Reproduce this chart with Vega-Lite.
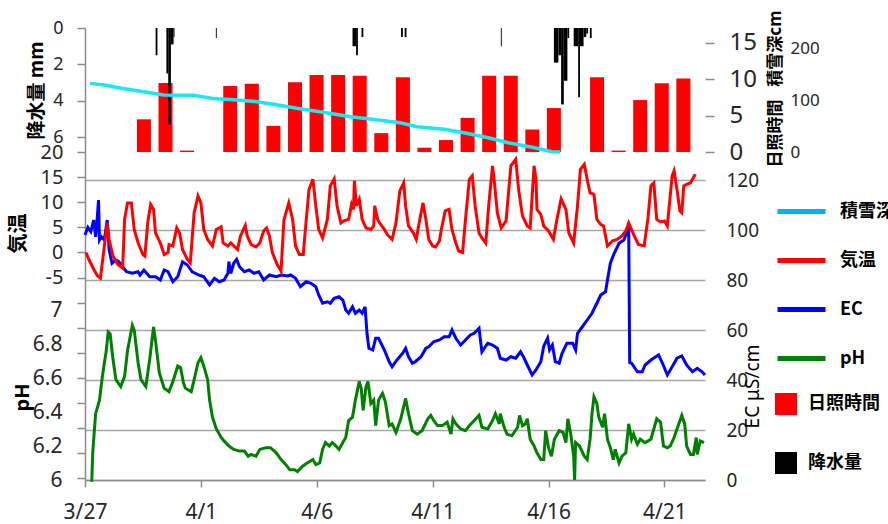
{
"$schema": "https://vega.github.io/schema/vega-lite/v6.json",
"width": 620, "height": 452,
"autosize": {"type": "none"},
"padding": {"left": 85, "top": 28, "right": 183, "bottom": 44},
"config": {
  "view": {"stroke": null},
  "font": "Noto Sans",
  "axis": {"labelFont": "Noto Sans", "labelColor": "#262626", "titleFont": "Noto Sans CJK JP", "titleColor": "#000000", "titleFontWeight": "bold", "domainColor": "#8c8c8c", "tickColor": "#8c8c8c", "domainWidth": 1.5, "tickWidth": 1.5, "gridColor": "#a6a6a6", "gridWidth": 1.5, "grid": false, "labelFlush": false, "labelOverlap": false, "labelBound": false, "titleAlign": "center", "titleBaseline": "middle", "titleAngle": 270, "titlePadding": 0},
  "legend": {"labelFont": "Noto Sans CJK JP", "labelFontWeight": "bold", "labelFontSize": 18, "labelColor": "#000000"}
},
"datasets": {
  "pr": [
    {"t":"2021-03-30T01:00","t2":"2021-03-30T03:00","v":1.5},
    {"t":"2021-03-30T13:00","t2":"2021-03-30T15:00","v":2.5},
    {"t":"2021-03-30T15:00","t2":"2021-03-30T18:00","v":5.3},
    {"t":"2021-03-30T18:00","t2":"2021-03-30T21:00","v":0.9},
    {"t":"2021-03-30T21:00","t2":"2021-03-30T22:00","v":0.5},
    {"t":"2021-04-01T20:00","t2":"2021-04-01T21:00","v":0.55},
    {"t":"2021-04-08T04:00","t2":"2021-04-08T08:00","v":1.0},
    {"t":"2021-04-08T08:00","t2":"2021-04-08T10:00","v":1.5},
    {"t":"2021-04-08T14:00","t2":"2021-04-08T16:00","v":0.5},
    {"t":"2021-04-10T10:00","t2":"2021-04-10T12:00","v":0.5},
    {"t":"2021-04-10T14:00","t2":"2021-04-10T16:00","v":0.5},
    {"t":"2021-04-15T01:00","t2":"2021-04-15T02:00","v":1.0},
    {"t":"2021-04-17T12:00","t2":"2021-04-17T17:00","v":1.9},
    {"t":"2021-04-17T17:00","t2":"2021-04-17T20:00","v":1.5},
    {"t":"2021-04-17T20:00","t2":"2021-04-17T23:00","v":4.2},
    {"t":"2021-04-17T23:00","t2":"2021-04-18T03:00","v":2.9},
    {"t":"2021-04-18T03:00","t2":"2021-04-18T05:00","v":0.55},
    {"t":"2021-04-18T10:00","t2":"2021-04-18T15:00","v":1.0},
    {"t":"2021-04-18T15:00","t2":"2021-04-18T17:00","v":3.8},
    {"t":"2021-04-18T17:00","t2":"2021-04-18T21:00","v":1.0},
    {"t":"2021-04-18T21:00","t2":"2021-04-19T00:00","v":0.5},
    {"t":"2021-04-19T00:00","t2":"2021-04-19T02:00","v":0.3},
    {"t":"2021-04-19T04:00","t2":"2021-04-19T06:00","v":0.55}
  ],
  "sun": [
    {"t":"2021-03-29T12:00","v":4.5},{"t":"2021-03-30T12:00","v":9.5},{"t":"2021-03-31T12:00","v":0.2},{"t":"2021-04-01T12:00","v":0},
    {"t":"2021-04-02T12:00","v":9.1},{"t":"2021-04-03T12:00","v":9.4},{"t":"2021-04-04T12:00","v":3.6},{"t":"2021-04-05T12:00","v":9.6},
    {"t":"2021-04-06T12:00","v":10.6},{"t":"2021-04-07T12:00","v":10.6},{"t":"2021-04-08T12:00","v":10.5},{"t":"2021-04-09T12:00","v":2.6},
    {"t":"2021-04-10T12:00","v":10.3},{"t":"2021-04-11T12:00","v":0.6},{"t":"2021-04-12T12:00","v":1.65},{"t":"2021-04-13T12:00","v":4.7},
    {"t":"2021-04-14T12:00","v":10.5},{"t":"2021-04-15T12:00","v":10.5},{"t":"2021-04-16T12:00","v":3.1},{"t":"2021-04-17T12:00","v":6.05},
    {"t":"2021-04-18T12:00","v":0},{"t":"2021-04-19T12:00","v":10.3},{"t":"2021-04-20T12:00","v":0.2},{"t":"2021-04-21T12:00","v":7.15},
    {"t":"2021-04-22T12:00","v":9.45},{"t":"2021-04-23T12:00","v":10.1}
  ],
  "snow": [
    {"t":"2021-03-27T00:00","v":132},{"t":"2021-03-27T16:00","v":129},{"t":"2021-03-28T11:00","v":122.5},{"t":"2021-03-29T12:00","v":116},
    {"t":"2021-03-30T10:00","v":109.6},{"t":"2021-03-31T19:00","v":109},{"t":"2021-04-01T17:00","v":103},{"t":"2021-04-02T20:00","v":100},
    {"t":"2021-04-03T18:00","v":96.7},{"t":"2021-04-04T19:00","v":90},{"t":"2021-04-05T14:00","v":84},{"t":"2021-04-06T23:00","v":75.6},
    {"t":"2021-04-08T02:00","v":67.9},{"t":"2021-04-09T02:00","v":62.9},{"t":"2021-04-10T09:00","v":56.3},{"t":"2021-04-11T04:00","v":48.6},
    {"t":"2021-04-12T10:00","v":43.6},{"t":"2021-04-13T08:00","v":37},{"t":"2021-04-14T11:00","v":27.5},{"t":"2021-04-15T09:00","v":17.9},
    {"t":"2021-04-16T12:00","v":9},{"t":"2021-04-17T10:00","v":0.6},{"t":"2021-04-17T19:00","v":0}
  ],
  "temp": [
    {"t":"2021-03-27T01:00","v":0},{"t":"2021-03-27T04:00","v":-1.4},{"t":"2021-03-27T10:00","v":-3.7},{"t":"2021-03-27T13:00","v":-4.7},{"t":"2021-03-27T16:00","v":-5.1},{"t":"2021-03-27T23:00","v":5.9},
    {"t":"2021-03-28T01:00","v":2.6},{"t":"2021-03-28T05:00","v":-0.7},{"t":"2021-03-28T10:00","v":-2.4},{"t":"2021-03-28T15:00","v":-3.1},{"t":"2021-03-28T17:00","v":6.6},{"t":"2021-03-28T20:00","v":9.9},
    {"t":"2021-03-29T00:00","v":9.9},{"t":"2021-03-29T03:00","v":4.6},{"t":"2021-03-29T07:00","v":1.9},{"t":"2021-03-29T12:00","v":-0.4},{"t":"2021-03-29T14:00","v":-0.7},{"t":"2021-03-29T17:00","v":6},{"t":"2021-03-29T20:00","v":9.6},{"t":"2021-03-29T23:00","v":8.6},
    {"t":"2021-03-30T01:00","v":3.9},{"t":"2021-03-30T06:00","v":1.9},{"t":"2021-03-30T10:00","v":-0.4},{"t":"2021-03-30T14:00","v":0},{"t":"2021-03-30T15:00","v":1.6},{"t":"2021-03-30T19:00","v":1.3},{"t":"2021-03-30T23:00","v":4.9},
    {"t":"2021-03-31T02:00","v":3.9},{"t":"2021-03-31T05:00","v":0.6},{"t":"2021-03-31T10:00","v":-1.4},{"t":"2021-03-31T13:00","v":-2.1},{"t":"2021-03-31T17:00","v":7.9},{"t":"2021-03-31T21:00","v":11.3},
    {"t":"2021-04-01T00:00","v":9.9},{"t":"2021-04-01T03:00","v":4.6},{"t":"2021-04-01T07:00","v":2.6},{"t":"2021-04-01T12:00","v":1.3},{"t":"2021-04-01T16:00","v":4.6},{"t":"2021-04-01T21:00","v":5.1},{"t":"2021-04-01T23:00","v":1.9},
    {"t":"2021-04-02T04:00","v":1.3},{"t":"2021-04-02T07:00","v":1.9},{"t":"2021-04-02T14:00","v":0.6},{"t":"2021-04-02T17:00","v":3.3},{"t":"2021-04-02T22:00","v":5.4},
    {"t":"2021-04-03T00:00","v":3.3},{"t":"2021-04-03T04:00","v":1.6},{"t":"2021-04-03T09:00","v":1.1},{"t":"2021-04-03T13:00","v":1.9},{"t":"2021-04-03T17:00","v":4.3},{"t":"2021-04-03T20:00","v":4.9},{"t":"2021-04-03T23:00","v":3.3},
    {"t":"2021-04-04T02:00","v":0},{"t":"2021-04-04T07:00","v":-2.4},{"t":"2021-04-04T11:00","v":-3.7},{"t":"2021-04-04T14:00","v":6.5},{"t":"2021-04-04T19:00","v":9.9},{"t":"2021-04-04T23:00","v":6.6},
    {"t":"2021-04-05T02:00","v":1.3},{"t":"2021-04-05T06:00","v":-0.4},{"t":"2021-04-05T10:00","v":-0.4},{"t":"2021-04-05T13:00","v":6.3},{"t":"2021-04-05T16:00","v":12.6},{"t":"2021-04-05T20:00","v":14.6},{"t":"2021-04-05T23:00","v":9.3},
    {"t":"2021-04-06T02:00","v":4.6},{"t":"2021-04-06T06:00","v":2.9},{"t":"2021-04-06T11:00","v":6.6},{"t":"2021-04-06T14:00","v":13.3},{"t":"2021-04-06T18:00","v":14.7},{"t":"2021-04-06T21:00","v":9.3},
    {"t":"2021-04-07T01:00","v":5.9},{"t":"2021-04-07T04:00","v":6.3},{"t":"2021-04-07T09:00","v":6.6},{"t":"2021-04-07T12:00","v":9.6},{"t":"2021-04-07T14:00","v":8.6},{"t":"2021-04-07T15:00","v":14.3},{"t":"2021-04-07T17:00","v":9.3},{"t":"2021-04-07T20:00","v":10.6},{"t":"2021-04-07T23:00","v":6.6},
    {"t":"2021-04-08T03:00","v":4.9},{"t":"2021-04-08T08:00","v":4.6},{"t":"2021-04-08T11:00","v":5.3},{"t":"2021-04-08T12:00","v":9.3},{"t":"2021-04-08T15:00","v":6.6},{"t":"2021-04-08T17:00","v":5.9},{"t":"2021-04-08T22:00","v":4.6},
    {"t":"2021-04-09T01:00","v":3.6},{"t":"2021-04-09T06:00","v":2.6},{"t":"2021-04-09T10:00","v":5.9},{"t":"2021-04-09T14:00","v":12.3},{"t":"2021-04-09T18:00","v":13.9},{"t":"2021-04-09T20:00","v":9.3},{"t":"2021-04-09T23:00","v":5.3},
    {"t":"2021-04-10T04:00","v":3.9},{"t":"2021-04-10T07:00","v":2.6},{"t":"2021-04-10T10:00","v":5.9},{"t":"2021-04-10T14:00","v":9.9},{"t":"2021-04-10T17:00","v":6.6},{"t":"2021-04-10T20:00","v":2.6},
    {"t":"2021-04-11T00:00","v":1.3},{"t":"2021-04-11T03:00","v":1.1},{"t":"2021-04-11T07:00","v":2.3},{"t":"2021-04-11T09:00","v":4.6},{"t":"2021-04-11T13:00","v":8.3},{"t":"2021-04-11T17:00","v":8.6},{"t":"2021-04-11T20:00","v":4.6},
    {"t":"2021-04-12T00:00","v":1.9},{"t":"2021-04-12T03:00","v":0.3},{"t":"2021-04-12T07:00","v":0},{"t":"2021-04-12T10:00","v":6.6},{"t":"2021-04-12T14:00","v":14.6},{"t":"2021-04-12T17:00","v":15.3},{"t":"2021-04-12T20:00","v":9.3},
    {"t":"2021-04-13T00:00","v":3.9},{"t":"2021-04-13T03:00","v":2.9},{"t":"2021-04-13T07:00","v":1.9},{"t":"2021-04-13T10:00","v":9.3},{"t":"2021-04-13T14:00","v":17.3},{"t":"2021-04-13T16:00","v":13.9},{"t":"2021-04-13T19:00","v":7.9},{"t":"2021-04-13T23:00","v":4.9},
    {"t":"2021-04-14T04:00","v":6.3},{"t":"2021-04-14T09:00","v":17.3},{"t":"2021-04-14T14:00","v":18.6},{"t":"2021-04-14T17:00","v":12.6},{"t":"2021-04-14T21:00","v":7.3},
    {"t":"2021-04-15T02:00","v":5.3},{"t":"2021-04-15T05:00","v":4.9},{"t":"2021-04-15T09:00","v":17.3},{"t":"2021-04-15T11:00","v":14.6},{"t":"2021-04-15T12:00","v":8.6},{"t":"2021-04-15T16:00","v":7.6},{"t":"2021-04-15T19:00","v":5.3},
    {"t":"2021-04-16T00:00","v":4.3},{"t":"2021-04-16T05:00","v":2.6},{"t":"2021-04-16T08:00","v":5.9},{"t":"2021-04-16T13:00","v":10.7},{"t":"2021-04-16T18:00","v":8.6},{"t":"2021-04-16T21:00","v":3.9},
    {"t":"2021-04-17T02:00","v":1.9},{"t":"2021-04-17T06:00","v":9.3},{"t":"2021-04-17T09:00","v":16.6},{"t":"2021-04-17T13:00","v":17.6},{"t":"2021-04-17T16:00","v":14.6},{"t":"2021-04-17T19:00","v":11.9},{"t":"2021-04-17T23:00","v":11.6},
    {"t":"2021-04-18T02:00","v":6.6},{"t":"2021-04-18T06:00","v":5.6},{"t":"2021-04-18T09:00","v":5.3},{"t":"2021-04-18T13:00","v":1.3},{"t":"2021-04-18T18:00","v":2.3},{"t":"2021-04-18T23:00","v":2.6},
    {"t":"2021-04-19T04:00","v":3.3},{"t":"2021-04-19T08:00","v":4.3},{"t":"2021-04-19T11:00","v":5.9},{"t":"2021-04-19T16:00","v":3.6},{"t":"2021-04-19T21:00","v":1.6},
    {"t":"2021-04-20T03:00","v":1.3},{"t":"2021-04-20T07:00","v":6.9},{"t":"2021-04-20T10:00","v":13.3},{"t":"2021-04-20T13:00","v":13.9},{"t":"2021-04-20T16:00","v":6.6},{"t":"2021-04-20T20:00","v":6.1},
    {"t":"2021-04-21T00:00","v":6.3},{"t":"2021-04-21T03:00","v":5.3},{"t":"2021-04-21T05:00","v":9.3},{"t":"2021-04-21T08:00","v":15.3},{"t":"2021-04-21T10:00","v":16.3},{"t":"2021-04-21T13:00","v":12.6},{"t":"2021-04-21T16:00","v":8.3},{"t":"2021-04-21T18:00","v":7.9},{"t":"2021-04-21T20:00","v":13.3},{"t":"2021-04-21T23:00","v":13.6},
    {"t":"2021-04-22T03:00","v":13.9},{"t":"2021-04-22T05:00","v":14.6},{"t":"2021-04-22T08:00","v":15.6}
  ],
  "ec": [
    {"t":"2021-03-27T00:00","v":98},{"t":"2021-03-27T03:00","v":101},{"t":"2021-03-27T06:00","v":99.3},{"t":"2021-03-27T09:00","v":104},{"t":"2021-03-27T11:00","v":97.3},{"t":"2021-03-27T12:00","v":101.3},{"t":"2021-03-27T14:00","v":112},{"t":"2021-03-27T15:00","v":96},{"t":"2021-03-27T17:00","v":97.3},{"t":"2021-03-27T20:00","v":96},{"t":"2021-03-27T23:00","v":104},
    {"t":"2021-03-28T01:00","v":92},{"t":"2021-03-28T04:00","v":86.7},{"t":"2021-03-28T08:00","v":88},{"t":"2021-03-28T11:00","v":87.3},{"t":"2021-03-28T15:00","v":85.3},{"t":"2021-03-28T19:00","v":83.3},
    {"t":"2021-03-29T01:00","v":82.7},{"t":"2021-03-29T07:00","v":83.3},{"t":"2021-03-29T09:00","v":82},{"t":"2021-03-29T13:00","v":84},{"t":"2021-03-29T19:00","v":81.3},
    {"t":"2021-03-30T01:00","v":81.3},{"t":"2021-03-30T06:00","v":80},{"t":"2021-03-30T10:00","v":84},{"t":"2021-03-30T14:00","v":83.3},{"t":"2021-03-30T19:00","v":79.3},
    {"t":"2021-03-31T00:00","v":81.3},{"t":"2021-03-31T05:00","v":87.3},{"t":"2021-03-31T10:00","v":86},{"t":"2021-03-31T15:00","v":83.3},{"t":"2021-03-31T22:00","v":82},
    {"t":"2021-04-01T03:00","v":81.3},{"t":"2021-04-01T09:00","v":78},{"t":"2021-04-01T14:00","v":80.7},{"t":"2021-04-01T19:00","v":79.3},
    {"t":"2021-04-02T00:00","v":80},{"t":"2021-04-02T04:00","v":82.7},{"t":"2021-04-02T05:00","v":87.3},{"t":"2021-04-02T07:00","v":82.7},{"t":"2021-04-02T10:00","v":86.7},{"t":"2021-04-02T13:00","v":88.3},{"t":"2021-04-02T16:00","v":85.3},{"t":"2021-04-02T21:00","v":83.3},
    {"t":"2021-04-03T02:00","v":84},{"t":"2021-04-03T07:00","v":82.7},{"t":"2021-04-03T12:00","v":83.3},{"t":"2021-04-03T17:00","v":80},{"t":"2021-04-03T23:00","v":82},
    {"t":"2021-04-04T06:00","v":81.3},{"t":"2021-04-04T11:00","v":82},{"t":"2021-04-04T18:00","v":81.6},{"t":"2021-04-04T21:00","v":82},
    {"t":"2021-04-05T02:00","v":80.7},{"t":"2021-04-05T07:00","v":77.3},{"t":"2021-04-05T13:00","v":79.3},{"t":"2021-04-05T18:00","v":78.7},{"t":"2021-04-05T23:00","v":77.3},
    {"t":"2021-04-06T02:00","v":74},{"t":"2021-04-06T06:00","v":70.7},{"t":"2021-04-06T11:00","v":71.3},{"t":"2021-04-06T14:00","v":70.7},{"t":"2021-04-06T18:00","v":72.7},{"t":"2021-04-06T23:00","v":73.3},
    {"t":"2021-04-07T03:00","v":72},{"t":"2021-04-07T06:00","v":68},{"t":"2021-04-07T09:00","v":66.7},{"t":"2021-04-07T13:00","v":69.3},{"t":"2021-04-07T16:00","v":66.7},{"t":"2021-04-07T20:00","v":68},{"t":"2021-04-07T23:00","v":66.7},
    {"t":"2021-04-08T02:00","v":69.3},{"t":"2021-04-08T04:00","v":58.7},{"t":"2021-04-08T06:00","v":52.7},{"t":"2021-04-08T10:00","v":52},{"t":"2021-04-08T13:00","v":56.7},{"t":"2021-04-08T16:00","v":56.7},{"t":"2021-04-08T22:00","v":52},
    {"t":"2021-04-09T03:00","v":47.3},{"t":"2021-04-09T06:00","v":45.3},{"t":"2021-04-09T11:00","v":48},{"t":"2021-04-09T17:00","v":50.7},{"t":"2021-04-09T20:00","v":52.7},{"t":"2021-04-09T23:00","v":49.3},
    {"t":"2021-04-10T03:00","v":46.7},{"t":"2021-04-10T06:00","v":47.3},{"t":"2021-04-10T12:00","v":49.3},{"t":"2021-04-10T17:00","v":52.7},{"t":"2021-04-10T20:00","v":53.3},
    {"t":"2021-04-11T01:00","v":55.3},{"t":"2021-04-11T07:00","v":56},{"t":"2021-04-11T12:00","v":57.3},{"t":"2021-04-11T17:00","v":57.3},{"t":"2021-04-11T20:00","v":60},
    {"t":"2021-04-12T00:00","v":56.7},{"t":"2021-04-12T05:00","v":54},{"t":"2021-04-12T10:00","v":56},{"t":"2021-04-12T15:00","v":58},{"t":"2021-04-12T19:00","v":58.7},
    {"t":"2021-04-13T00:00","v":60.7},{"t":"2021-04-13T03:00","v":51.3},{"t":"2021-04-13T09:00","v":54.7},{"t":"2021-04-13T14:00","v":54},{"t":"2021-04-13T19:00","v":52.7},{"t":"2021-04-13T22:00","v":48.7},
    {"t":"2021-04-14T04:00","v":48},{"t":"2021-04-14T09:00","v":49.3},{"t":"2021-04-14T14:00","v":48.7},{"t":"2021-04-14T19:00","v":51.3},{"t":"2021-04-14T22:00","v":49.3},
    {"t":"2021-04-15T02:00","v":46},{"t":"2021-04-15T07:00","v":42},{"t":"2021-04-15T11:00","v":44},{"t":"2021-04-15T16:00","v":47.3},{"t":"2021-04-15T19:00","v":53.5},{"t":"2021-04-15T23:00","v":56.7},
    {"t":"2021-04-16T01:00","v":52},{"t":"2021-04-16T04:00","v":54},{"t":"2021-04-16T07:00","v":47.3},{"t":"2021-04-16T11:00","v":46.7},{"t":"2021-04-16T14:00","v":50.7},{"t":"2021-04-16T19:00","v":54.7},
    {"t":"2021-04-17T01:00","v":54.7},{"t":"2021-04-17T04:00","v":52},{"t":"2021-04-17T06:00","v":58.7},{"t":"2021-04-17T11:00","v":61.3},{"t":"2021-04-17T16:00","v":64},{"t":"2021-04-17T21:00","v":66.7},
    {"t":"2021-04-18T02:00","v":70.7},{"t":"2021-04-18T06:00","v":74},{"t":"2021-04-18T11:00","v":75.3},{"t":"2021-04-18T13:00","v":80},{"t":"2021-04-18T16:00","v":86.7},{"t":"2021-04-18T20:00","v":90.7},
    {"t":"2021-04-19T01:00","v":94.7},{"t":"2021-04-19T06:00","v":96},{"t":"2021-04-19T10:00","v":100},{"t":"2021-04-19T11:00","v":101.3},{"t":"2021-04-19T12:00","v":47},{"t":"2021-04-19T14:00","v":46.7},{"t":"2021-04-19T20:00","v":43.3},
    {"t":"2021-04-20T01:00","v":43.3},{"t":"2021-04-20T04:00","v":46},{"t":"2021-04-20T10:00","v":48},{"t":"2021-04-20T15:00","v":49.3},{"t":"2021-04-20T18:00","v":50},{"t":"2021-04-20T22:00","v":46.7},
    {"t":"2021-04-21T03:00","v":42},{"t":"2021-04-21T08:00","v":45.3},{"t":"2021-04-21T13:00","v":48.7},{"t":"2021-04-21T18:00","v":49.6},{"t":"2021-04-21T23:00","v":46},
    {"t":"2021-04-22T05:00","v":43.3},{"t":"2021-04-22T10:00","v":44.7},{"t":"2021-04-22T15:00","v":43.3},{"t":"2021-04-22T18:00","v":42}
  ],
  "ph": [
    {"t":"2021-03-27T07:00","v":5.99},{"t":"2021-03-27T08:00","v":6.16},{"t":"2021-03-27T11:00","v":6.39},{"t":"2021-03-27T15:00","v":6.47},{"t":"2021-03-27T18:00","v":6.61},{"t":"2021-03-27T22:00","v":6.76},
    {"t":"2021-03-28T00:00","v":6.87},{"t":"2021-03-28T02:00","v":6.86},{"t":"2021-03-28T05:00","v":6.71},{"t":"2021-03-28T08:00","v":6.59},{"t":"2021-03-28T13:00","v":6.55},{"t":"2021-03-28T17:00","v":6.61},{"t":"2021-03-28T20:00","v":6.76},
    {"t":"2021-03-29T01:00","v":6.91},{"t":"2021-03-29T03:00","v":6.88},{"t":"2021-03-29T07:00","v":6.69},{"t":"2021-03-29T10:00","v":6.59},{"t":"2021-03-29T15:00","v":6.55},{"t":"2021-03-29T19:00","v":6.71},{"t":"2021-03-29T23:00","v":6.9},
    {"t":"2021-03-30T01:00","v":6.82},{"t":"2021-03-30T05:00","v":6.63},{"t":"2021-03-30T10:00","v":6.54},{"t":"2021-03-30T15:00","v":6.52},{"t":"2021-03-30T19:00","v":6.58},
    {"t":"2021-03-31T00:00","v":6.67},{"t":"2021-03-31T03:00","v":6.66},{"t":"2021-03-31T06:00","v":6.57},{"t":"2021-03-31T08:00","v":6.54},{"t":"2021-03-31T14:00","v":6.52},{"t":"2021-03-31T17:00","v":6.59},{"t":"2021-03-31T21:00","v":6.69},
    {"t":"2021-04-01T00:00","v":6.72},{"t":"2021-04-01T03:00","v":6.67},{"t":"2021-04-01T07:00","v":6.59},{"t":"2021-04-01T09:00","v":6.47},{"t":"2021-04-01T12:00","v":6.37},{"t":"2021-04-01T16:00","v":6.3},{"t":"2021-04-01T19:00","v":6.27},{"t":"2021-04-01T21:00","v":6.25},
    {"t":"2021-04-02T00:00","v":6.23},{"t":"2021-04-02T05:00","v":6.2},{"t":"2021-04-02T10:00","v":6.18},{"t":"2021-04-02T16:00","v":6.17},{"t":"2021-04-02T21:00","v":6.17},
    {"t":"2021-04-03T01:00","v":6.14},{"t":"2021-04-03T04:00","v":6.15},{"t":"2021-04-03T09:00","v":6.14},{"t":"2021-04-03T13:00","v":6.18},{"t":"2021-04-03T19:00","v":6.19},
    {"t":"2021-04-04T00:00","v":6.19},{"t":"2021-04-04T06:00","v":6.16},{"t":"2021-04-04T11:00","v":6.12},{"t":"2021-04-04T16:00","v":6.09},{"t":"2021-04-04T20:00","v":6.06},
    {"t":"2021-04-05T01:00","v":6.06},{"t":"2021-04-05T04:00","v":6.05},{"t":"2021-04-05T09:00","v":6.08},{"t":"2021-04-05T14:00","v":6.1},{"t":"2021-04-05T20:00","v":6.12},{"t":"2021-04-05T23:00","v":6.09},
    {"t":"2021-04-06T03:00","v":6.1},{"t":"2021-04-06T06:00","v":6.18},{"t":"2021-04-06T09:00","v":6.22},{"t":"2021-04-06T13:00","v":6.2},{"t":"2021-04-06T16:00","v":6.22},{"t":"2021-04-06T20:00","v":6.2},{"t":"2021-04-06T23:00","v":6.18},
    {"t":"2021-04-07T03:00","v":6.22},{"t":"2021-04-07T06:00","v":6.25},{"t":"2021-04-07T09:00","v":6.35},{"t":"2021-04-07T13:00","v":6.37},{"t":"2021-04-07T16:00","v":6.47},{"t":"2021-04-07T20:00","v":6.58},{"t":"2021-04-07T22:00","v":6.54},
    {"t":"2021-04-08T00:00","v":6.41},{"t":"2021-04-08T03:00","v":6.55},{"t":"2021-04-08T05:00","v":6.58},{"t":"2021-04-08T08:00","v":6.45},{"t":"2021-04-08T11:00","v":6.47},{"t":"2021-04-08T13:00","v":6.32},{"t":"2021-04-08T16:00","v":6.47},{"t":"2021-04-08T20:00","v":6.51},{"t":"2021-04-08T23:00","v":6.46},
    {"t":"2021-04-09T03:00","v":6.32},{"t":"2021-04-09T06:00","v":6.33},{"t":"2021-04-09T10:00","v":6.28},{"t":"2021-04-09T15:00","v":6.36},{"t":"2021-04-09T20:00","v":6.48},{"t":"2021-04-09T23:00","v":6.39},
    {"t":"2021-04-10T03:00","v":6.29},{"t":"2021-04-10T08:00","v":6.27},{"t":"2021-04-10T13:00","v":6.29},{"t":"2021-04-10T19:00","v":6.36},{"t":"2021-04-10T22:00","v":6.38},
    {"t":"2021-04-11T01:00","v":6.35},{"t":"2021-04-11T05:00","v":6.32},{"t":"2021-04-11T10:00","v":6.32},{"t":"2021-04-11T15:00","v":6.34},{"t":"2021-04-11T19:00","v":6.27},{"t":"2021-04-11T21:00","v":6.36},
    {"t":"2021-04-12T00:00","v":6.33},{"t":"2021-04-12T05:00","v":6.3},{"t":"2021-04-12T10:00","v":6.29},{"t":"2021-04-12T14:00","v":6.32},{"t":"2021-04-12T19:00","v":6.35},
    {"t":"2021-04-13T00:00","v":6.38},{"t":"2021-04-13T03:00","v":6.31},{"t":"2021-04-13T09:00","v":6.3},{"t":"2021-04-13T14:00","v":6.35},{"t":"2021-04-13T17:00","v":6.39},{"t":"2021-04-13T21:00","v":6.33},{"t":"2021-04-13T22:00","v":6.39},
    {"t":"2021-04-14T02:00","v":6.31},{"t":"2021-04-14T05:00","v":6.27},{"t":"2021-04-14T10:00","v":6.26},{"t":"2021-04-14T16:00","v":6.31},{"t":"2021-04-14T18:00","v":6.38},{"t":"2021-04-14T21:00","v":6.32},
    {"t":"2021-04-15T00:00","v":6.33},{"t":"2021-04-15T02:00","v":6.36},{"t":"2021-04-15T05:00","v":6.24},{"t":"2021-04-15T09:00","v":6.2},{"t":"2021-04-15T12:00","v":6.16},{"t":"2021-04-15T16:00","v":6.12},{"t":"2021-04-15T19:00","v":6.12},{"t":"2021-04-15T21:00","v":6.29},
    {"t":"2021-04-16T00:00","v":6.19},{"t":"2021-04-16T03:00","v":6.14},{"t":"2021-04-16T06:00","v":6.24},{"t":"2021-04-16T11:00","v":6.29},{"t":"2021-04-16T15:00","v":6.28},{"t":"2021-04-16T18:00","v":6.22},{"t":"2021-04-16T20:00","v":6.36},{"t":"2021-04-16T23:00","v":6.27},
    {"t":"2021-04-17T02:00","v":6.14},{"t":"2021-04-17T03:00","v":6.0},{"t":"2021-04-17T04:00","v":6.22},{"t":"2021-04-17T08:00","v":6.2},{"t":"2021-04-17T13:00","v":6.14},{"t":"2021-04-17T16:00","v":6.12},{"t":"2021-04-17T19:00","v":6.24},{"t":"2021-04-17T21:00","v":6.39},{"t":"2021-04-17T23:00","v":6.49},
    {"t":"2021-04-18T02:00","v":6.45},{"t":"2021-04-18T04:00","v":6.37},{"t":"2021-04-18T08:00","v":6.31},{"t":"2021-04-18T10:00","v":6.39},{"t":"2021-04-18T13:00","v":6.24},{"t":"2021-04-18T16:00","v":6.19},{"t":"2021-04-18T19:00","v":6.12},{"t":"2021-04-18T21:00","v":6.18},
    {"t":"2021-04-19T01:00","v":6.1},{"t":"2021-04-19T04:00","v":6.14},{"t":"2021-04-19T08:00","v":6.16},{"t":"2021-04-19T11:00","v":6.33},{"t":"2021-04-19T14:00","v":6.24},{"t":"2021-04-19T16:00","v":6.27},{"t":"2021-04-19T20:00","v":6.21},{"t":"2021-04-19T23:00","v":6.24},
    {"t":"2021-04-20T04:00","v":6.22},{"t":"2021-04-20T10:00","v":6.24},{"t":"2021-04-20T13:00","v":6.3},{"t":"2021-04-20T16:00","v":6.36},{"t":"2021-04-20T20:00","v":6.34},{"t":"2021-04-20T23:00","v":6.2},
    {"t":"2021-04-21T03:00","v":6.19},{"t":"2021-04-21T06:00","v":6.2},{"t":"2021-04-21T10:00","v":6.25},{"t":"2021-04-21T13:00","v":6.3},{"t":"2021-04-21T18:00","v":6.38},{"t":"2021-04-21T21:00","v":6.33},{"t":"2021-04-21T23:00","v":6.2},
    {"t":"2021-04-22T03:00","v":6.15},{"t":"2021-04-22T06:00","v":6.15},{"t":"2021-04-22T09:00","v":6.25},{"t":"2021-04-22T10:00","v":6.15},{"t":"2021-04-22T13:00","v":6.23},{"t":"2021-04-22T17:00","v":6.22}
  ]
},
"layer": [
  {
    "resolve": {"scale": {"y": "independent"}, "axis": {"y": "independent"}},
    "encoding": {"x": {"field": "t", "type": "temporal", "scale": {"domain": [{"year":2021,"month":3,"date":27},{"year":2021,"month":4,"date":24,"hours":6,"minutes":30}]}, "axis": null}},
    "layer": [
      {
        "layer": [
          {"data": {"name": "sun"}, "mark": {"type": "bar", "width": 14},
           "encoding": {
             "y": {"field": "v", "type": "quantitative", "scale": {"domain": [-45.1, 17.06]},
                   "axis": {"orient": "right", "offset": 0, "values": [0,5,10,15], "domain": false, "tickSize": 9, "labelPadding": 15, "labelFontSize": 24, "title": "日照時間", "titleX": 70, "titleY": 105, "titleFontSize": 17}},
             "fill": {"datum": "日照時間", "type": "nominal", "scale": {"domain": ["日照時間", "降水量"], "range": ["#ff0000", "#000000"]},
                      "legend": {"orient": "none", "legendX": 690, "legendY": 365, "title": null, "symbolType": "square", "symbolSize": 484, "symbolStrokeWidth": 0, "labelOffset": 11, "rowPadding": 37}}
           }},
          {"data": {"values": [{"k": 1}]}, "mark": {"type": "rect", "filled": false, "stroke": "#404040", "strokeWidth": 1.5},
           "encoding": {
             "x": {"datum": {"year":2021,"month":3,"date":27}, "type": "temporal"},
             "x2": {"datum": {"year":2021,"month":4,"date":24}},
             "y": {"datum": 0, "type": "quantitative", "scale": {"domain": [-45.1, 17.06]}},
             "y2": {"datum": 17.06}
           }},
          {"data": {"values": [{"k": 1}]}, "mark": {"type": "rule", "stroke": "#8c8c8c", "strokeWidth": 1.5},
           "encoding": {
             "x": {"datum": {"year":2021,"month":4,"date":24,"hours":6,"minutes":30}, "type": "temporal"},
             "y": {"datum": 0, "type": "quantitative", "scale": {"domain": [-45.1, 17.06]}},
             "y2": {"datum": 15}
           }}
        ]
      },
      {"data": {"name": "pr"}, "mark": {"type": "bar"},
       "encoding": {
         "x2": {"field": "t2"},
         "y": {"field": "v", "type": "quantitative", "scale": {"domain": [0, 24.84], "reverse": true},
               "axis": {"orient": "left", "offset": 0, "values": [0,2,4,6], "domain": false, "tickSize": 8, "labelPadding": 14, "labelFontSize": 18, "title": "降水量  mm", "titleX": -49, "titleY": 62, "titleFontSize": 19}},
         "y2": {"datum": 0},
         "fill": {"datum": "降水量", "type": "nominal"}
       }},
      {"data": {"name": "snow"}, "mark": {"type": "line", "stroke": "#1ce6f2", "strokeWidth": 3.5},
       "encoding": {
         "y": {"field": "v", "type": "quantitative", "scale": {"domain": [-630.8, 238.5]},
               "axis": {"orient": "right", "offset": 80, "values": [0,100,200], "domain": false, "ticks": false, "tickSize": 0, "labelPadding": 5, "labelFontSize": 17, "title": "積雪深cm", "titleX": -10, "titleY": 20, "titleFontSize": 17}}
       }}
    ]
  },
  {
    "resolve": {"scale": {"y": "independent"}, "axis": {"y": "independent"}},
    "encoding": {"x": {"field": "t", "type": "temporal", "scale": {"domain": [{"year":2021,"month":3,"date":27},{"year":2021,"month":4,"date":22,"hours":18}]},
      "axis": {"values": [{"year":2021,"month":3,"date":27},{"year":2021,"month":4,"date":1},{"year":2021,"month":4,"date":6},{"year":2021,"month":4,"date":11},{"year":2021,"month":4,"date":16},{"year":2021,"month":4,"date":21}],
               "format": "%-m/%-d", "labelFontSize": 21, "tickSize": 7, "labelPadding": 14, "title": null, "grid": false}}},
    "layer": [
      {"data": {"name": "ec"}, "mark": {"type": "line", "strokeWidth": 3},
       "encoding": {
         "y": {"field": "v", "type": "quantitative", "scale": {"domain": [0, 180.8]},
               "axis": {"orient": "right", "offset": 0, "values": [0,20,40,60,80,100,120], "grid": true, "domain": false, "ticks": false, "tickSize": 0, "labelPadding": 21, "labelFontSize": 19, "title": "EC μS/cm", "titleX": 47, "titleY": 358, "titleFontSize": 19, "titleFont": "Noto Sans", "titleFontWeight": "normal"}},
         "stroke": {"datum": "EC", "type": "nominal", "scale": {"domain": ["積雪深", "気温", "EC", "pH"], "range": ["#00b0f0", "#ff0000", "#0000ff", "#008000"]},
                    "legend": {"orient": "none", "legendX": 690, "legendY": 157, "title": null, "symbolType": "stroke", "symbolSize": 2304, "symbolStrokeWidth": 5, "labelOffset": 12, "rowPadding": 12}}
       }},
      {"data": {"name": "temp"}, "mark": {"type": "line", "strokeWidth": 3},
       "encoding": {
         "y": {"field": "v", "type": "quantitative", "scale": {"domain": [-45.4, 44.8]},
               "axis": {"orient": "left", "offset": 0, "values": [-45,-40,-35,-30,-25,-20,-15,-10,-5,0,5,10,15,20], "labelExpr": "datum.value < -5 ? '' : '' + datum.value", "domain": true, "tickSize": 8, "labelPadding": 14, "labelFontSize": 20, "title": "気温", "titleX": -67, "titleY": 205, "titleFontSize": 20}},
         "stroke": {"datum": "気温", "type": "nominal"}
       }},
      {"data": {"name": "ph"}, "mark": {"type": "line", "strokeWidth": 3},
       "encoding": {
         "y": {"field": "v", "type": "quantitative", "scale": {"domain": [6, 8.659]},
               "axis": {"orient": "left", "offset": 0, "values": [6,6.2,6.4,6.6,6.8,7], "labelExpr": "'' + datum.value", "domain": false, "ticks": false, "tickSize": 0, "labelPadding": 23, "labelFontSize": 21, "title": "pH", "titleX": -63, "titleY": 369, "titleFontSize": 20, "titleFont": "Noto Sans"}},
         "stroke": {"datum": "pH", "type": "nominal"}
       }}
    ]
  }
],
"resolve": {"scale": {"x": "independent", "y": "independent"}, "axis": {"x": "independent", "y": "independent"}}
}
